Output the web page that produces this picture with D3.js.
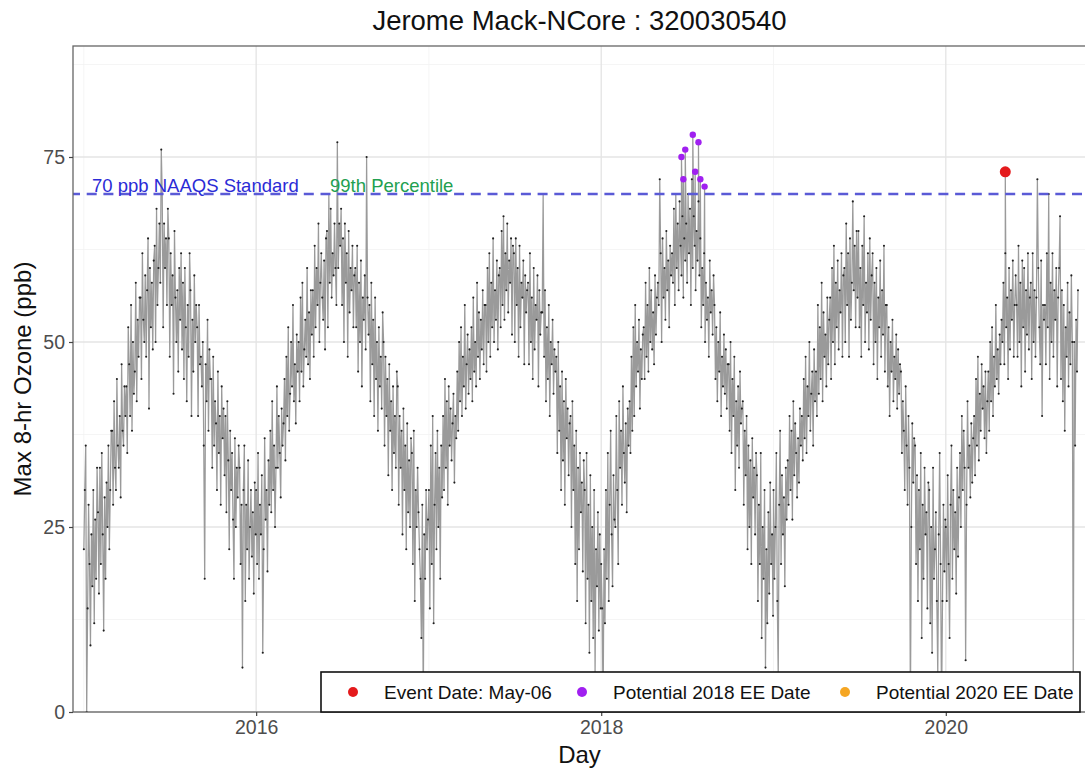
<!DOCTYPE html>
<html><head><meta charset="utf-8">
<script src="https://cdn.jsdelivr.net/npm/d3@7"></script>
<style>
body{margin:0;background:#fff}
svg{display:block}
text{font-family:"Liberation Sans",Arial,Helvetica,sans-serif}
</style>
</head><body>
<svg id="chart" width="1085" height="776"></svg>
<script>
// ---- data (one value about every 2 days) ----
const titleText = "Jerome Mack-NCore : 320030540";
const yTicks = [0, 25, 50, 75];
const yMinor = [12.5, 37.5, 62.5, 87.5];
const xTickYears = [2016, 2018, 2020];
const xMinorYears = [2015, 2017, 2019];
const seriesYears = [2015, 2016, 2017, 2018, 2019, 2020];
const stepDays = 2;

const ozone2015 = [
  22,30,36,0,14,28,20,9,24,17,30,12,26,18,33,
  27,16,33,20,35,24,11,29,18,31,25,36,22,30,38,
  38,28,42,33,30,45,36,33,40,29,47,38,36,44,40,
  44,35,52,47,40,55,38,50,43,46,58,42,53,48,56,
  56,45,62,53,50,59,48,57,64,41,60,52,58,49,61,
  63,50,68,55,60,66,58,76,70,52,66,60,64,55,68,
  64,48,62,55,59,43,65,56,50,57,46,60,53,62,49,
  58,45,60,52,42,55,48,62,57,40,53,46,59,50,55,
  52,40,55,47,48,44,50,36,18,47,42,53,38,49,45,
  45,33,48,36,42,39,30,46,35,40,28,44,37,41,32,
  40,27,42,34,22,38,30,35,26,18,37,25,33,29,36,
  33,20,28,6,30,36,15,28,22,34,18,25,30,21,27,16,31,24];
const ozone2016 = [
  30,20,35,18,28,24,32,8,22,37,26,30,19,34,28,
  38,27,42,30,36,25,33,44,33,40,35,29,41,36,39,
  45,34,48,40,52,38,43,50,44,55,42,47,39,51,46,
  50,42,56,46,58,44,49,53,48,60,47,54,45,57,51,
  57,48,63,52,60,55,66,50,58,62,56,53,61,49,64,
  65,52,70,58,68,56,62,59,66,60,55,77,60,66,63,
  68,55,64,50,66,58,62,48,65,54,60,57,63,52,59,
  60,52,63,46,58,50,61,44,56,53,59,49,75,56,51,
  55,42,58,47,53,40,56,45,50,38,52,44,48,41,54,
  50,36,48,40,45,32,47,38,42,30,44,35,40,33,46,
  44,28,40,33,38,24,41,30,36,22,39,27,34,25,37,
  35,20,38,15,30,25,33,27,22,18,10,28,0,24,18,30,22,26];
const ozone2017 = [
  30,14,36,20,40,12,28,35,22,38,25,33,18,36,29,
  40,30,45,33,42,28,44,36,41,34,39,43,31,40,37,
  46,38,50,42,52,40,48,44,55,41,47,51,43,49,45,
  52,42,56,46,50,44,58,48,54,45,53,49,57,47,55,
  55,46,60,50,62,48,58,52,64,50,57,53,61,49,59,
  60,52,65,55,67,53,62,57,66,54,61,58,64,51,63,
  62,50,64,55,60,48,63,52,58,56,61,47,59,54,57,
  58,47,62,50,56,45,60,49,55,53,59,44,57,51,54,
  54,70,48,57,42,52,45,55,40,50,47,53,43,49,46,
  48,35,50,38,44,30,46,34,42,28,45,37,41,32,39,
  40,25,42,30,36,20,38,15,33,22,35,27,31,19,34,
  30,12,35,18,28,8,32,15,25,10,30,5,22,17,27,11,24,14];
const ozone2018 = [
  20,14,0,22,12,30,18,35,15,28,38,24,17,32,26,
  25,40,30,20,42,33,38,28,44,35,31,39,27,41,36,
  42,35,48,38,52,40,55,44,50,46,53,41,49,45,51,
  52,45,58,48,55,46,60,50,57,49,54,47,59,51,56,
  58,55,72,62,50,64,56,60,53,65,57,61,52,63,59,
  62,58,68,55,70,60,66,57,69,63,59,67,56,64,61,
  66,58,70,62,68,55,72,60,67,63,57,65,61,69,59,
  64,52,60,55,62,50,58,53,56,48,61,54,57,51,59,
  55,45,52,42,50,46,54,40,48,44,51,43,49,41,47,
  47,38,50,35,45,40,48,30,42,36,44,33,46,39,41,
  42,28,38,32,40,22,36,25,34,20,37,29,33,24,35,
  32,15,28,20,35,10,25,18,30,6,22,12,27,16,31,20,24,13];
const ozone2019 = [
  30,18,25,35,15,5,28,38,20,32,24,29,17,33,26,
  34,28,40,30,38,26,42,32,39,35,29,37,31,41,36,
  40,34,45,37,48,35,44,40,50,38,43,46,36,49,42,
  46,40,55,43,52,45,58,42,54,48,51,44,56,47,53,
  56,45,60,50,63,47,58,52,61,49,57,54,62,48,59,
  60,50,66,55,62,48,64,53,58,69,57,63,52,65,56,
  65,52,60,48,63,55,67,50,58,54,62,49,64,53,59,
  62,47,58,50,60,45,56,52,61,48,57,51,63,46,55,
  55,44,52,40,50,46,53,42,48,45,51,41,49,43,47,
  46,35,42,38,30,44,36,28,40,33,0,25,39,31,37,
  36,20,32,15,30,22,35,10,28,18,33,24,27,14,31,
  30,12,25,8,33,18,22,27,15,5,24,35,20,0,15,28,19,26];
const ozone2020 = [
  25,15,32,20,10,28,36,18,30,22,27,16,33,21,29,
  35,25,40,30,38,33,7,28,42,33,36,29,39,31,37,
  40,32,45,36,48,34,43,38,47,41,44,37,46,35,42,
  46,38,50,42,52,40,48,44,55,45,49,43,51,47,53,
  50,58,47,62,52,56,45,60,49,57,53,61,48,55,59,
  55,48,63,50,58,44,61,52,60,46,57,51,62,49,56,
  58,45,62,50,57,48,56,72,60,52,47,61,40,55,53,
  55,47,62,52,70,45,58,50,62,48,57,53,60,44,56,
  60,67,45,57,42,55,38,52,48,58,44,54,47,59,50,
  0,50,36,53,46,57];

const ee2018Dates = ["2018-06-20","2018-06-24","2018-06-28","2018-07-14","2018-07-19","2018-07-26","2018-07-30","2018-08-08"];
const ee2018Values = [75,72,76,78,73,77,72,71];
const eventDates = ["2020-05-06"];
const eventValues = [73];
const ee2020Dates = [];
const ee2020Values = [];

const naaqsValue = 70;
const legendLabels = ["Event Date: May-06", "Potential 2018 EE Date", "Potential 2020 EE Date"];
const legendColors = ["#e41a1c", "#a020f0", "#f5a623"];

// ---- build series ----
const DAY = 864e5;
const yearArrays = [ozone2015, ozone2016, ozone2017, ozone2018, ozone2019, ozone2020];
let series = [];
yearArrays.forEach((arr, k) => {
  const t0 = Date.UTC(seriesYears[k], 0, 1);
  arr.forEach((v, i) => series.push({date: new Date(t0 + i * stepDays * DAY), value: v, type: "obs"}));
});
const parse = s => new Date(s + "T00:00:00Z");
const ee2018 = ee2018Dates.map((d, i) => ({date: parse(d), value: ee2018Values[i], type: "ee2018"}));
const events = eventDates.map((d, i) => ({date: parse(d), value: eventValues[i], type: "event"}));
const ee2020 = ee2020Dates.map((d, i) => ({date: parse(d), value: ee2020Values[i], type: "ee2020"}));
series = series.concat(ee2018, events, ee2020).sort((a, b) => a.date - b.date);

// ---- layout ----
const svg = d3.select("#chart");
const P = {left: 73, right: 1086, top: 46, bottom: 712};

const x = d3.scaleUtc()
  .domain([new Date(Date.UTC(2014, 11, 9)), new Date(Date.UTC(2020, 9, 24))])
  .range([P.left, P.right]);
const y = d3.scaleLinear().domain([0, 90]).range([P.bottom, P.top]);

svg.append("defs").append("clipPath").attr("id", "panel")
  .append("rect").attr("x", P.left).attr("y", P.top)
  .attr("width", P.right - P.left).attr("height", P.bottom - P.top);

// grid
const grid = svg.append("g");
const yr = d => new Date(Date.UTC(d, 0, 1));
grid.selectAll(".ymin").data(yMinor).join("line")
  .attr("x1", P.left).attr("x2", P.right)
  .attr("y1", d => y(d)).attr("y2", d => y(d))
  .attr("stroke", "#f2f2f2").attr("stroke-width", 0.8);
grid.selectAll(".xmin").data(xMinorYears).join("line")
  .attr("y1", P.top).attr("y2", P.bottom)
  .attr("x1", d => x(yr(d))).attr("x2", d => x(yr(d)))
  .attr("stroke", "#f2f2f2").attr("stroke-width", 0.8);
grid.selectAll(".ymaj").data(yTicks).join("line")
  .attr("x1", P.left).attr("x2", P.right)
  .attr("y1", d => y(d)).attr("y2", d => y(d))
  .attr("stroke", "#e4e4e4").attr("stroke-width", 1.3);
grid.selectAll(".xmaj").data(xTickYears).join("line")
  .attr("y1", P.top).attr("y2", P.bottom)
  .attr("x1", d => x(yr(d))).attr("x2", d => x(yr(d)))
  .attr("stroke", "#e4e4e4").attr("stroke-width", 1.3);

const plot = svg.append("g").attr("clip-path", "url(#panel)");

// series line + points
plot.append("path").datum(series)
  .attr("fill", "none").attr("stroke", "#9a9a9a").attr("stroke-width", 1.25)
  .attr("stroke-linejoin", "miter")
  .attr("d", d3.line().x(d => x(d.date)).y(d => y(d.value)));
plot.append("g").selectAll("circle").data(series.filter(d => d.type === "obs")).join("circle")
  .attr("cx", d => x(d.date)).attr("cy", d => y(d.value)).attr("r", 1.05)
  .attr("fill", "#1e1e1e");

// NAAQS line + labels
plot.append("line")
  .attr("x1", P.left).attr("x2", P.right)
  .attr("y1", y(naaqsValue)).attr("y2", y(naaqsValue))
  .attr("stroke", "#5a5ad6").attr("stroke-width", 2.4).attr("stroke-dasharray", "10,6.7")
  .attr("stroke-dashoffset", 3);
plot.append("text").attr("x", 92).attr("y", y(naaqsValue) - 2)
  .attr("font-size", 18.5).attr("fill", "#2b2bd6").text("70 ppb NAAQS Standard");
plot.append("text").attr("x", 330).attr("y", y(naaqsValue) - 2)
  .attr("font-size", 18.5).attr("fill", "#22a050").text("99th Percentile");

// special points
plot.append("g").selectAll("circle").data(ee2018).join("circle")
  .attr("cx", d => x(d.date)).attr("cy", d => y(d.value)).attr("r", 3.2)
  .attr("fill", legendColors[1]);
plot.append("g").selectAll("circle").data(ee2020).join("circle")
  .attr("cx", d => x(d.date)).attr("cy", d => y(d.value)).attr("r", 3.2)
  .attr("fill", legendColors[2]);
plot.append("g").selectAll("circle").data(events).join("circle")
  .attr("cx", d => x(d.date)).attr("cy", d => y(d.value)).attr("r", 5.5)
  .attr("fill", legendColors[0]);

// panel border
svg.append("rect").attr("x", P.left).attr("y", P.top)
  .attr("width", P.right - P.left).attr("height", P.bottom - P.top)
  .attr("fill", "none").attr("stroke", "#666").attr("stroke-width", 1.3);

// axes
const yAxis = svg.append("g").attr("transform", `translate(${P.left},0)`)
  .call(d3.axisLeft(y).tickValues(yTicks).tickSize(4).tickPadding(4).tickFormat(d3.format("d")));
const xAxis = svg.append("g").attr("transform", `translate(0,${P.bottom})`)
  .call(d3.axisBottom(x).tickValues(xTickYears.map(yr))
    .tickSize(4).tickPadding(4).tickFormat(d3.utcFormat("%Y")));
[yAxis, xAxis].forEach(a => {
  a.select(".domain").remove();
  a.selectAll(".tick line").attr("stroke", "#444").attr("stroke-width", 1.2);
  a.selectAll(".tick text").attr("fill", "#4d4d4d").attr("font-size", 19.5)
    .attr("font-family", '"Liberation Sans",Arial,sans-serif');
});

// titles
svg.append("text").attr("x", (P.left + P.right) / 2).attr("y", 30)
  .attr("text-anchor", "middle").attr("font-size", 27.5).attr("fill", "#111").text(titleText);
svg.append("text").attr("x", (P.left + P.right) / 2).attr("y", 763)
  .attr("text-anchor", "middle").attr("font-size", 24).attr("fill", "#111").text("Day");
svg.append("text").attr("transform", `translate(31,${(P.top + P.bottom) / 2}) rotate(-90)`)
  .attr("text-anchor", "middle").attr("font-size", 24).attr("fill", "#111").text("Max 8-hr Ozone (ppb)");

// legend
const lg = svg.append("g");
lg.append("rect").attr("x", 321).attr("y", 672).attr("width", 759).attr("height", 40)
  .attr("fill", "#fff").attr("stroke", "#111").attr("stroke-width", 1.6);
const legendX = [353, 582, 845];
legendLabels.forEach((lab, i) => {
  lg.append("circle").attr("cx", legendX[i]).attr("cy", 692).attr("r", 5).attr("fill", legendColors[i]);
  lg.append("text").attr("x", legendX[i] + 31).attr("y", 692).attr("dy", "0.35em")
    .attr("font-size", 19).attr("fill", "#111").text(lab);
});
</script>
</body></html>
